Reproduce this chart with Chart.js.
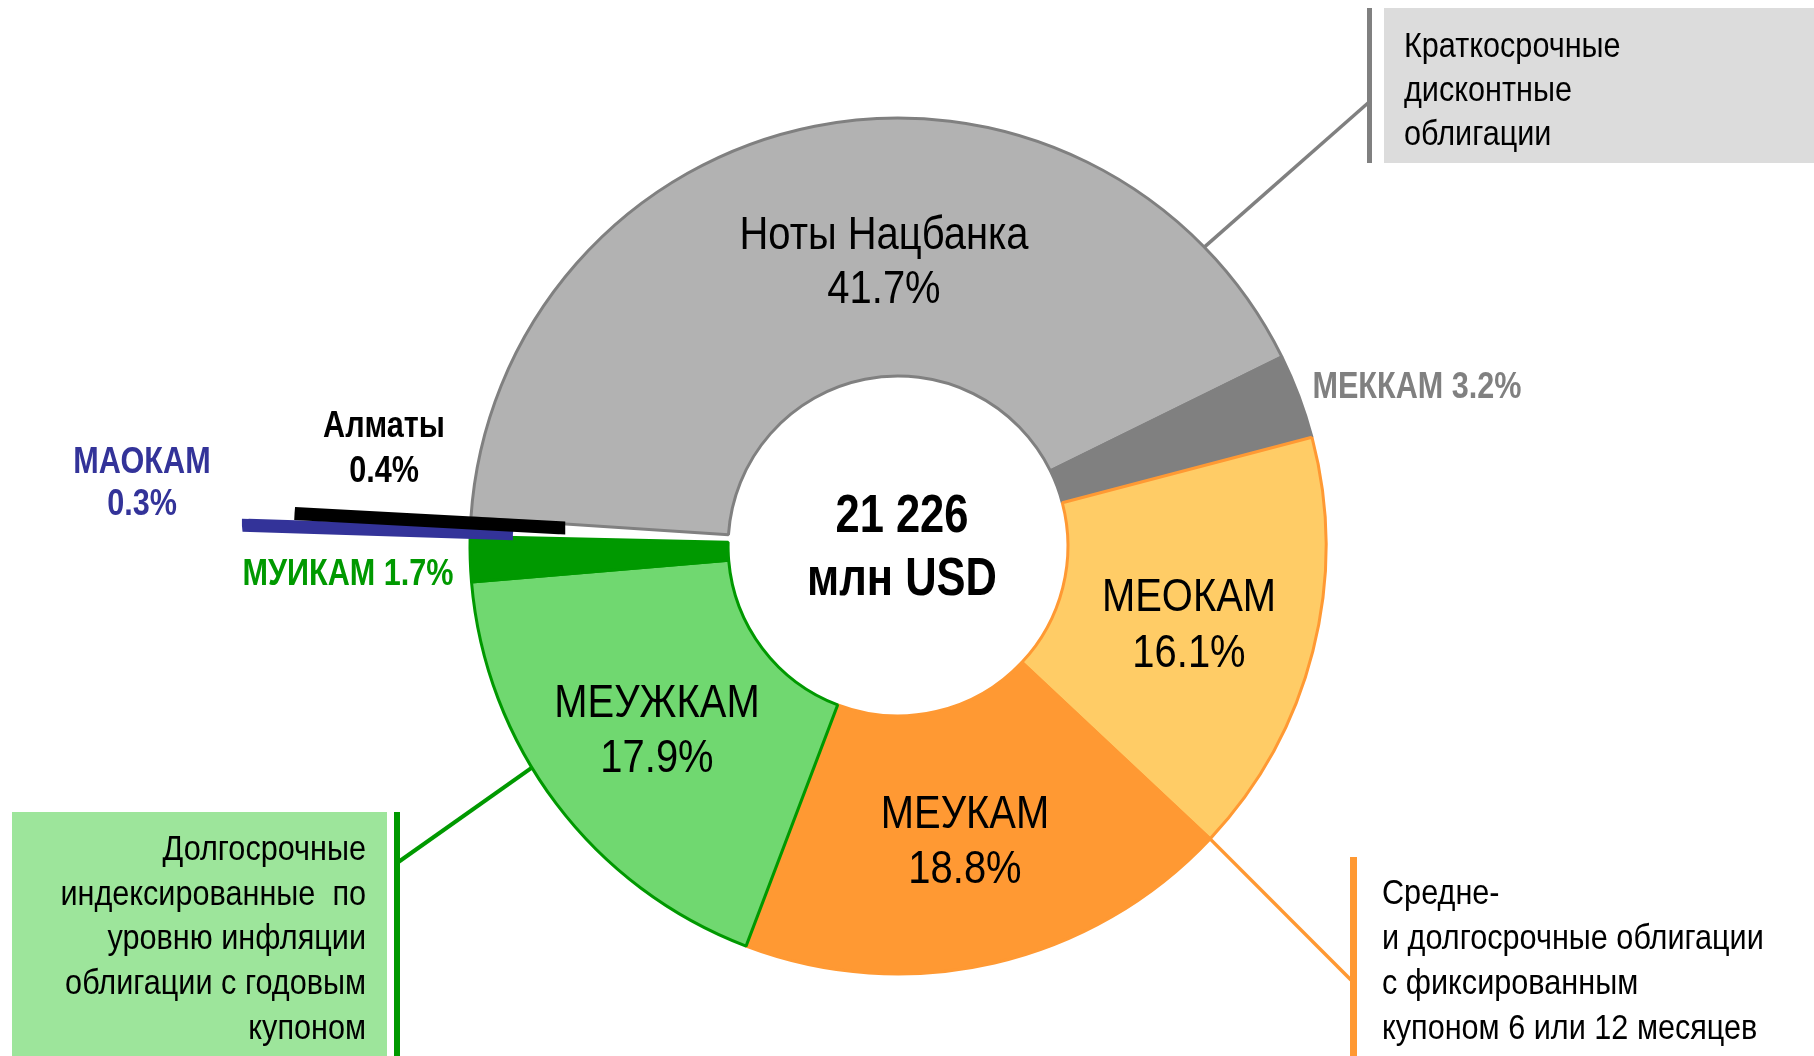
<!DOCTYPE html>
<html><head><meta charset="utf-8">
<script src="https://cdn.jsdelivr.net/npm/chart.js@4/dist/chart.umd.min.js"></script>
<style>html,body{margin:0;padding:0;background:#fff;overflow:hidden}#wrap{position:relative;width:1814px;height:1056px}</style>
</head><body><div id="wrap"><canvas id="c"></canvas></div>
<script>
// ---- data ----
const categories = ['Ноты Нацбанка', 'МЕККАМ', 'МЕОКАМ', 'МЕУКАМ', 'МЕУЖКАМ', 'МУИКАМ', 'МАОКАМ', 'Алматы'];
const shares = [41.7, 3.2, 16.1, 18.8, 17.9, 1.7, 0.3, 0.4];
const totalLines = ['21 226', 'млн USD'];
const noteShort = ['Краткосрочные', 'дисконтные', 'облигации'];
const noteLinked = ['Долгосрочные', 'индексированные  по', 'уровню инфляции', 'облигации с годовым', 'купоном'];
const noteFixed = ['Средне-', 'и долгосрочные облигации', 'с фиксированным', 'купоном 6 или 12 месяцев'];

// ---- styles ----
const sliceFill = ['#b2b2b2', '#808080', '#ffcc66', '#ff9933', '#70d870', '#009900', '#333399', '#000000'];
const sliceBorder = ['#808080', '#808080', '#ff9933', '#ff9933', '#009900', '#009900', '#333399', '#000000'];
const sliceBorderWidth = [3, 3, 3, 3, 3, 3, 13, 13];
const sliceJoin = ['bevel', 'bevel', 'bevel', 'bevel', 'bevel', 'bevel', 'miter', 'miter'];
const sliceOffset = [0, 0, 0, 0, 0, 0, 448, 344];

const FONT = '"Liberation Sans", Arial, sans-serif';
function drawText(ctx, txt, x, y, size, bold, color, align, sx) {
  ctx.save();
  ctx.font = (bold ? 'bold ' : '') + size + 'px ' + FONT;
  ctx.fillStyle = color;
  ctx.textBaseline = 'alphabetic';
  ctx.textAlign = align || 'center';
  ctx.translate(x, y);
  ctx.scale(sx || 0.82, 1);
  ctx.fillText(txt, 0, 0);
  ctx.restore();
}

const labelLayout = [
  {x: 884, y: [249, 303], size: 47, bold: false, color: '#000', sx: 0.85},
  {x: 1417, y: [398], size: 36, bold: true, color: '#808080', sx: 0.85},
  {x: 1189, y: [611, 667], size: 47, bold: false, color: '#000', sx: 0.85},
  {x: 965, y: [828, 883], size: 47, bold: false, color: '#000', sx: 0.85},
  {x: 657, y: [717, 772], size: 47, bold: false, color: '#000', sx: 0.85},
  {x: 348, y: [585], size: 36, bold: true, color: '#009900', sx: 0.85},
  {x: 142, y: [473, 515], size: 36, bold: true, color: '#333399', sx: 0.85},
  {x: 384, y: [437, 482], size: 36, bold: true, color: '#000', sx: 0.85}
];

const annotations = {
  id: 'annotations',
  beforeDatasetsDraw(chart) {
    const ctx = chart.ctx;
    ctx.save();
    ctx.fillStyle = '#dcdcdc';
    ctx.fillRect(1384, 8, 430, 155);
    ctx.fillStyle = '#808080';
    ctx.fillRect(1367, 8, 5, 155);
    ctx.fillStyle = '#9de59b';
    ctx.fillRect(12, 812, 375, 244);
    ctx.fillStyle = '#009900';
    ctx.fillRect(394, 812, 6, 244);
    ctx.fillStyle = '#ff9933';
    ctx.fillRect(1350, 857, 7, 199);
    ctx.restore();
  },
  afterDatasetsDraw(chart) {
    const ctx = chart.ctx;
    const arcs = chart.getDatasetMeta(0).data;
    const cx = arcs[0].x, cy = arcs[0].y, R = arcs[0].outerRadius;
    const edge = (ang) => [cx + Math.cos(ang) * R, cy + Math.sin(ang) * R];
    ctx.save();
    ctx.lineWidth = 3.5;
    let p = edge(-44.3 * Math.PI / 180);
    ctx.strokeStyle = '#808080';
    ctx.beginPath(); ctx.moveTo(p[0], p[1]); ctx.lineTo(1368, 103); ctx.stroke();
    p = edge(arcs[3].startAngle);
    ctx.strokeStyle = '#ff9933';
    ctx.beginPath(); ctx.moveTo(p[0], p[1]); ctx.lineTo(1351, 980); ctx.stroke();
    p = edge(148.8 * Math.PI / 180);
    ctx.strokeStyle = '#009900';
    ctx.lineWidth = 4;
    ctx.beginPath(); ctx.moveTo(p[0], p[1]); ctx.lineTo(397, 863); ctx.stroke();
    ctx.restore();

    categories.forEach((name, i) => {
      const L = labelLayout[i];
      const pct = shares[i].toFixed(1) + '%';
      if (L.y.length === 1) {
        drawText(ctx, name + ' ' + pct, L.x, L.y[0], L.size, L.bold, L.color, 'center', L.sx);
      } else {
        drawText(ctx, name, L.x, L.y[0], L.size, L.bold, L.color, 'center', L.sx);
        drawText(ctx, pct, L.x, L.y[1], L.size, L.bold, L.color, 'center', L.sx);
      }
    });
    drawText(ctx, totalLines[0], cx + 4, 532, 53, true, '#000', 'center', 0.82);
    drawText(ctx, totalLines[1], cx + 4, 595, 53, true, '#000', 'center', 0.82);
    noteShort.forEach((t, i) => drawText(ctx, t, 1404, 57 + i * 44, 35, false, '#000', 'left', 0.875));
    noteLinked.forEach((t, i) => drawText(ctx, t, 366, 860 + i * 44.7, 35, false, '#000', 'right', 0.875));
    noteFixed.forEach((t, i) => drawText(ctx, t, 1382, 904 + i * 45, 35, false, '#000', 'left', 0.875));
  }
};

new Chart(document.getElementById('c'), {
  type: 'doughnut',
  data: {
    labels: categories,
    datasets: [{
      data: shares,
      backgroundColor: sliceFill,
      borderColor: sliceBorder,
      borderWidth: sliceBorderWidth,
      borderJoinStyle: sliceJoin,
      offset: sliceOffset,
      hoverOffset: 0
    }]
  },
  options: {
    responsive: true,
    maintainAspectRatio: false,
    animation: false,
    events: [],
    rotation: 273.8,
    radius: 428,
    cutout: '39.7%',
    layout: {padding: {left: 0, right: 18, top: 36, bottom: 0}},
    plugins: {legend: {display: false}, tooltip: {enabled: false}}
  },
  plugins: [annotations]
});
</script>
</body></html>
